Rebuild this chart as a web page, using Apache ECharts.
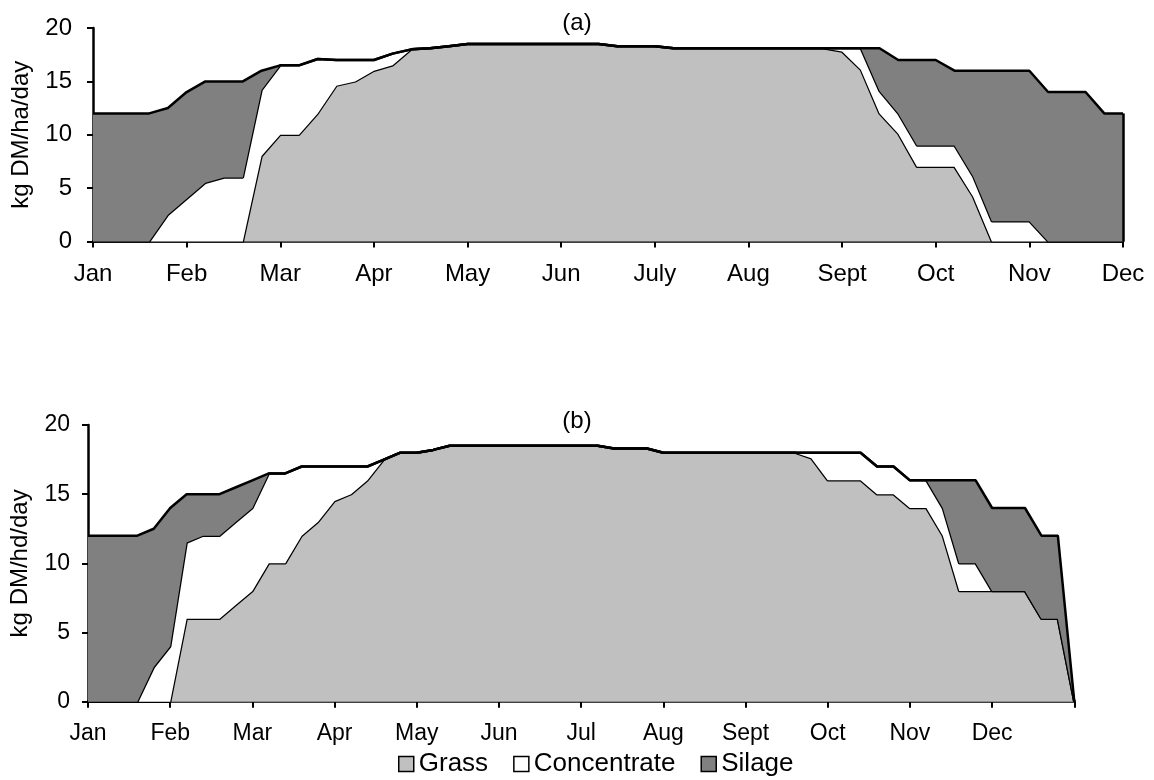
<!DOCTYPE html>
<html>
<head>
<meta charset="utf-8">
<script src="https://cdn.jsdelivr.net/npm/echarts@6/dist/echarts.min.js"></script>
<style>
html,body{margin:0;padding:0;background:#fff;}
#c{width:1154px;height:780px;}
</style>
</head>
<body>
<div id="c"></div>
<script>
// ---- tick labels ----
var monthsA = ['Jan','Feb','Mar','Apr','May','Jun','July','Aug','Sept','Oct','Nov','Dec'];
var monthsB = ['Jan','Feb','Mar','Apr','May','Jun','Jul','Aug','Sept','Oct','Nov','Dec'];
var stepsPerMonth = 5;
var yTicks = [0, 5, 10, 15, 20];
var seriesNames = ['Grass', 'Concentrate', 'Silage'];

// ---- panel (a): kg DM/ha/day, 56 points (Jan .. Dec) ----
var grassA = [0,0,0,0,0,0,0,0,0,8,10,10,12,14.6,15,16,16.5,18,18.1,18.3,
  18.5,18.5,18.5,18.5,18.5,18.5,18.5,18.5,18.3,18.3,18.3,
  18.1,18.1,18.1,18.1,18.1,18.1,18.1,18.1,18.1,
  17.8,16.1,12,10.1,7,7,7,4.2,0,0,0,0,0,0,0,0];
var concA = [0,0,0,0,2.5,4,5.5,6,6,6.2,6.5,6.5,5.1,2.4,2,1,1.1,
  0,0,0,0,0,0,0,0,0,0,0,0,0,0,0,0,0,0,0,0,0,0,0,
  0.3,2,2.1,1.9,2,2,2,1.9,1.9,1.9,1.9,0,0,0,0,0];
var silageA = [12,12,12,12,10,10,9.5,9,9,1.8,
  0,0,0,0,0,0,0,0,0,0,0,0,0,0,0,0,0,0,0,0,0,0,0,0,0,0,0,0,0,0,0,0,
  4,5,8,8,7,9.9,14.1,14.1,14.1,14,14,14,12,12];

// ---- panel (b): kg DM/hd/day, 61 points (Jan .. end of Dec) ----
var grassB = [0,0,0,0,0,0,6,6,6,7,8,10,10,12,13,14.5,15,16,17.5,18,18,18.2,18.5,
  18.5,18.5,18.5,18.5,18.5,18.5,18.5,18.5,18.5,18.3,18.3,18.3,
  18,18,18,18,18,18,18,18,18,
  17.6,16,16,16,15,15,14,14,12,8,8,8,8,8,6,6,0];
var concB = [0,0,0,0,2.5,4,5.5,6,6,6,6,6.5,6.5,5,4,2.5,2,1,
  0,0,0,0,0,0,0,0,0,0,0,0,0,0,0,0,0,0,0,0,0,0,0,0,0,0,
  0.4,2,2,2,2,2,2,2,2,2,2,0,0,0,0,0,0];
var silageB = [12,12,12,12,10,10,3.5,3,3,2.5,2,
  0,0,0,0,0,0,0,0,0,0,0,0,0,0,0,0,0,0,0,0,0,0,0,0,0,0,0,0,0,0,0,0,0,0,0,0,0,0,0,0,0,
  2,6,6,6,6,6,6,6,0];

var FONT = "'Liberation Sans', Arial, sans-serif";
var fills = ['#C0C0C0', '#FFFFFF', '#808080'];

function cats(n){ var a=[]; for(var i=0;i<n;i++) a.push(String(i)); return a; }

function xAxis(grid, n, months, fs, margin){
  return {
    type:'category', gridIndex:grid, data:cats(n), boundaryGap:false,
    axisLine:{show:true, lineStyle:{color:'#000', width:2.5}},
    axisTick:{show:true, interval:stepsPerMonth-1, length:6, inside:false, lineStyle:{color:'#000', width:2}},
    axisLabel:{interval:stepsPerMonth-1, margin:margin, color:'#000', fontFamily:FONT, fontSize:fs,
      formatter:function(v, idx){ var m = idx/stepsPerMonth; return months[m] || ''; }},
    splitLine:{show:false}
  };
}
function yAxis(grid, name, gap, fs, margin){
  return {
    type:'value', gridIndex:grid, min:yTicks[0], max:yTicks[yTicks.length-1], interval:yTicks[1]-yTicks[0],
    name:name, nameLocation:'middle', nameGap:gap,
    nameTextStyle:{color:'#000', fontFamily:FONT, fontSize:24},
    axisLine:{show:true, lineStyle:{color:'#000', width:2.5}},
    axisTick:{show:true, length:6, lineStyle:{color:'#000', width:2}},
    axisLabel:{color:'#000', fontFamily:FONT, fontSize:fs, margin:margin},
    splitLine:{show:false}
  };
}
function areaSeries(name, data, k, grid, stack){
  return {
    name:name, type:'line', xAxisIndex:grid, yAxisIndex:grid, stack:stack, data:data,
    showSymbol:false, symbol:'none', smooth:false, legendIcon:'rect',
    lineStyle:{color:'#000', width:2.5},
    itemStyle:{color:fills[k], borderColor:'#000', borderWidth:1.5},
    areaStyle:{color:fills[k], opacity:1},
    z: 2 + k
  };
}

var lastA = silageA.length - 1;
var topA = grassA[lastA] + concA[lastA] + silageA[lastA];

var series = [
  areaSeries(seriesNames[0], grassA, 0, 0, 'a'),
  areaSeries(seriesNames[1], concA, 1, 0, 'a'),
  areaSeries(seriesNames[2], silageA, 2, 0, 'a'),
  areaSeries(seriesNames[0], grassB, 0, 1, 'b'),
  areaSeries(seriesNames[1], concB, 1, 1, 'b'),
  areaSeries(seriesNames[2], silageB, 2, 1, 'b')
];
series[2].markLine = {
  silent:true, symbol:['none','none'], label:{show:false},
  lineStyle:{color:'#000', width:2.5, type:'solid'},
  data:[[{coord:[String(lastA), 0]}, {coord:[String(lastA), topA]}]]
};

var chart = echarts.init(document.getElementById('c'), null, {renderer:'canvas'});
chart.setOption({
  animation:false,
  backgroundColor:'#fff',
  textStyle:{fontFamily:FONT},
  title:[
    {text:'(a)', left:'center', top:11, padding:0, textStyle:{fontFamily:FONT, fontSize:24, fontWeight:'normal', color:'#000'}},
    {text:'(b)', left:'center', top:409, padding:0, textStyle:{fontFamily:FONT, fontSize:24, fontWeight:'normal', color:'#000'}}
  ],
  legend:{
    data:seriesNames, left:398, top:751, padding:0, itemGap:25, itemWidth:15, itemHeight:15,
    icon:'rect',
    itemStyle:{borderColor:'#000', borderWidth:1.5},
    textStyle:{fontFamily:FONT, fontSize:26, color:'#000'}
  },
  grid:[
    {left:93, right:31, top:28, height:213.5, containLabel:false},
    {left:85.3, right:79.7, top:425, height:276.7, containLabel:false}
  ],
  xAxis:[ xAxis(0, grassA.length, monthsA, 24, 21), xAxis(1, grassB.length, monthsB, 23, 20) ],
  yAxis:[ yAxis(0, 'kg DM/ha/day', 60, 24, 21), yAxis(1, 'kg DM/hd/day', 56, 23, 18) ],
  series:series
});
</script>
</body>
</html>
